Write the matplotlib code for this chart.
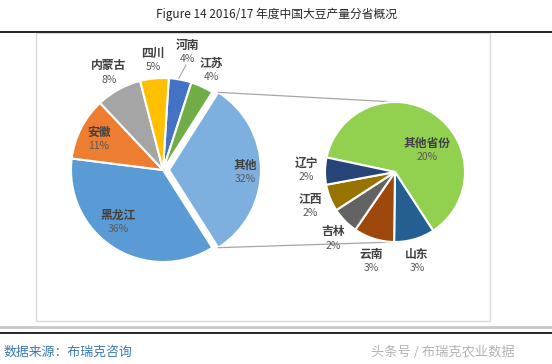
import matplotlib
matplotlib.use("Agg")
import matplotlib.pyplot as plt
from matplotlib.patches import Rectangle
import numpy as np

plt.rcParams['font.family'] = ['Noto Sans CJK SC', 'DejaVu Sans']

# 主饼图：各省份占比 (%)
main_names = ['河南', '江苏', '其他', '黑龙江', '安徽', '内蒙古', '四川']
main_values = [4, 4, 32, 36, 11, 8, 5]
main_colors = ['#4472C4', '#70AD47', '#7DAFDF', '#5B9BD5', '#ED7D31', '#A5A5A5', '#FFC000']

# 次饼图："其他" 的拆分 (%)
sub_names = ['其他省份', '山东', '云南', '吉林', '江西', '辽宁']
sub_values = [20, 3, 3, 2, 2, 2]
sub_colors = ['#92D050', '#255E91', '#9E480E', '#636363', '#997300', '#264478']

title = 'Figure 14 2016/17 年度中国大豆产量分省概况'
source = '数据来源：布瑞克咨询'
watermark = '头条号 / 布瑞克农业数据'

W, H = 552, 364


def Y(y):
    # 像素坐标 (自上而下) -> 数据坐标
    return H - y


fig = plt.figure(figsize=(W / 100, H / 100), dpi=100)
ax = fig.add_axes([0, 0, 1, 1])

# 标签位置 (像素，名称与百分比的中点)
main_label_pos = [(188, 52), (211, 70), (245, 172), (118, 222), (99, 139), (109, 73), (153, 60)]
sub_label_pos = [(427, 150), (417, 261), (371, 261), (333, 239), (310, 206), (306, 170)]

main_c = (163, Y(170))
main_r = 92
sub_c = (395, Y(172))
sub_r = 70

explode = [6 if n == '其他' else 0 for n in main_names]
wedges, _ = ax.pie(main_values, colors=main_colors, startangle=86.4, counterclock=False,
                   center=main_c, radius=main_r, explode=explode,
                   wedgeprops=dict(edgecolor='white', linewidth=1.5))
sub_wedges, _ = ax.pie(sub_values, colors=sub_colors, startangle=168, counterclock=False,
                       center=sub_c, radius=sub_r,
                       wedgeprops=dict(edgecolor='white', linewidth=1.5, zorder=3))

# 连接线：从"其他"扇区边角到次饼图上下端
w = wedges[main_names.index('其他')]
cx, cy = w.center
for ang, ty in [(w.theta2, sub_c[1] + sub_r), (w.theta1, sub_c[1] - sub_r)]:
    px = cx + w.r * np.cos(np.radians(ang))
    py = cy + w.r * np.sin(np.radians(ang))
    ax.plot([px, sub_c[0]], [py, ty], color='#A6A6A6', lw=0.9, zorder=1)

# 河南 引导线
ax.plot([186, 179], [Y(65), Y(78)], color='#A6A6A6', lw=0.8)

for names, vals, pos in [(main_names, main_values, main_label_pos),
                         (sub_names, sub_values, sub_label_pos)]:
    for n, v, (x, y) in zip(names, vals, pos):
        ax.text(x, Y(y - 7), n, ha='center', va='center', fontsize=8.5,
                fontweight='bold', color='#404040', zorder=5)
        ax.text(x, Y(y + 7), f'{v}%', ha='center', va='center', fontsize=7.5,
                color='#595959', zorder=5)

# 标题与框线
ax.text(W / 2, Y(14), title, ha='center', va='center', fontsize=8.5, color='#262626')
ax.plot([0, W], [Y(32), Y(32)], color='black', lw=1.2)
ax.add_patch(Rectangle((36, Y(321)), 454, 288, fill=False, edgecolor='#D9D9D9', lw=1))
ax.plot([0, W], [Y(327), Y(327)], color='#C8C8C8', lw=2)
ax.plot([0, W], [Y(333), Y(333)], color='black', lw=1.2)

ax.text(3, Y(352), source, ha='left', va='center', fontsize=9.3, color='#3A78B8')
ax.text(515, Y(352), watermark, ha='right', va='center', fontsize=9.5, color='#B4B4B4')

ax.set_xlim(0, W)
ax.set_ylim(0, H)
ax.set_aspect('equal')
ax.axis('off')

fig.savefig('out.png', dpi=100, facecolor='white')
